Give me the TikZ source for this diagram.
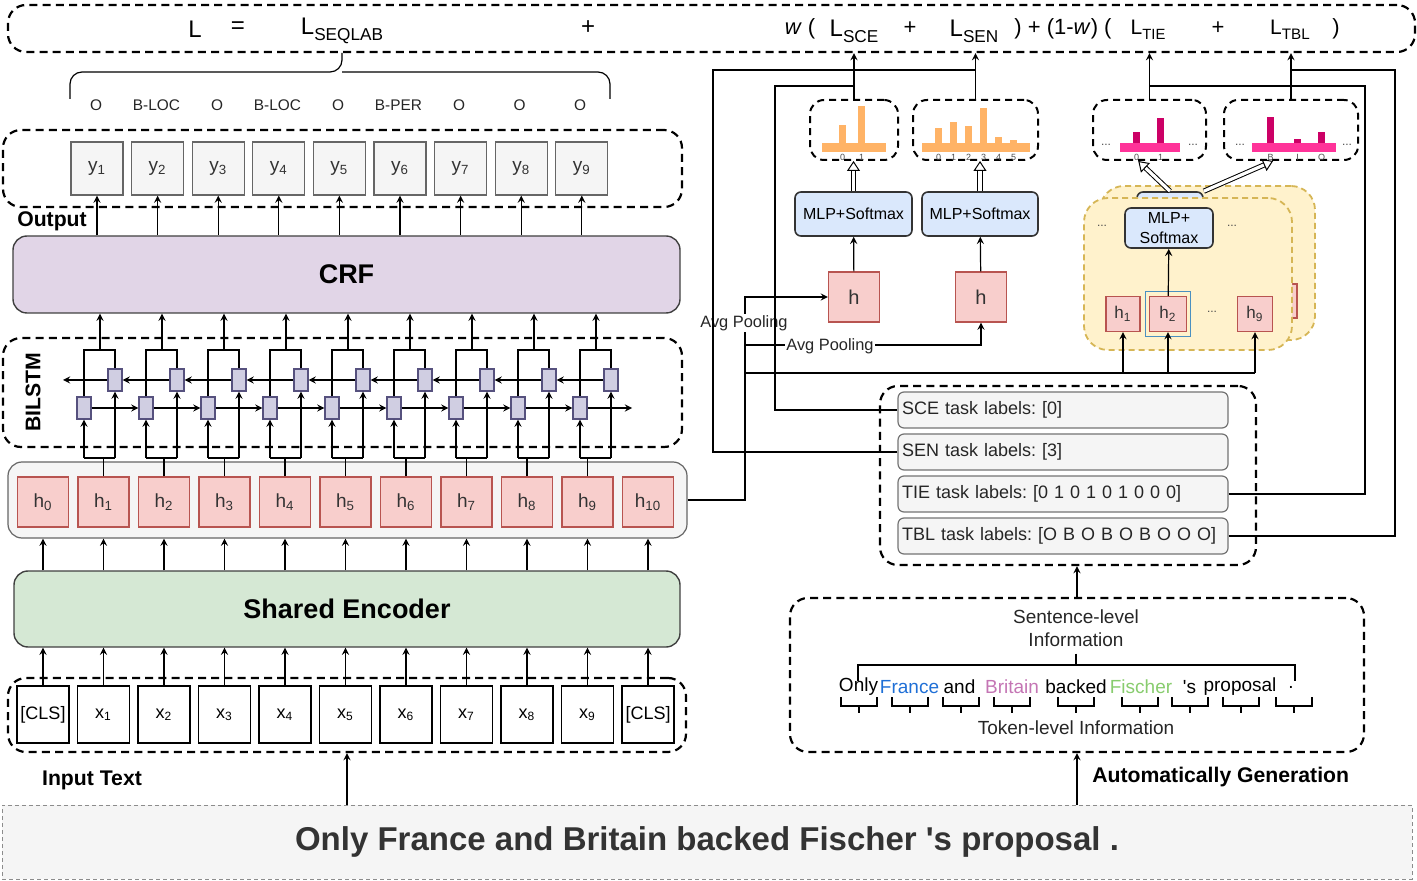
\documentclass[tikz,border=0pt]{standalone}
\usepackage{fontspec}
\setmainfont{Liberation Sans}
\usetikzlibrary{arrows.meta,positioning}
\frenchspacing

\definecolor{hfill}{HTML}{F8CECC}
\definecolor{hdraw}{HTML}{B85450}
\definecolor{crffill}{HTML}{E1D5E7}
\definecolor{encfill}{HTML}{D5E8D4}
\definecolor{mlpfill}{HTML}{DAE8FC}
\definecolor{cellfill}{HTML}{D0CEE2}
\definecolor{celldraw}{HTML}{56517E}
\definecolor{boxfill}{HTML}{F5F5F5}
\definecolor{tokfill}{HTML}{FFF2CC}
\definecolor{tokdraw}{HTML}{D6B656}
\definecolor{selblue}{HTML}{4A90C0}
\definecolor{barorange}{HTML}{FFB366}
\definecolor{barpink}{HTML}{FF3399}
\definecolor{bardark}{HTML}{CC0066}
\definecolor{wblue}{HTML}{1F6FD6}
\definecolor{wpink}{HTML}{C475B4}
\definecolor{wgreen}{HTML}{88CC6E}

\newcommand{\lterm}[3]{\fontsize{#2}{#2}\selectfont L\raisebox{-0.45ex}{\fontsize{#3}{#3}\selectfont #1}}

\tikzset{
  dbox/.style={draw, line width=1.1pt, dash pattern=on 4pt off 2.6pt, rounded corners=9pt},
  chart/.style={draw, line width=1pt, dash pattern=on 3.5pt off 2.5pt, rounded corners=7pt, minimum height=30pt},
  ybox/.style={draw=black!60, fill=boxfill, minimum width=26pt, minimum height=26.5pt, font=\fontsize{9.5}{10}\selectfont, text=black!80},
  hbox/.style={draw=hdraw, fill=hfill, minimum width=25.5pt, minimum height=25pt, font=\fontsize{9.5}{10}\selectfont, text=black!80},
  xbox/.style={draw, fill=white, minimum width=26pt, minimum height=28.5pt, font=\fontsize{9}{10}\selectfont, inner sep=0pt},
  cell/.style={draw=celldraw, fill=cellfill, minimum width=7pt, minimum height=11pt, inner sep=0pt},
  bigbox/.style={draw=black!75, rounded corners=7pt, line width=0.7pt, font=\fontsize{13.5}{15}\selectfont\bfseries},
  mlp/.style={draw=black!80, fill=mlpfill, rounded corners=3pt, line width=0.8pt, font=\fontsize{8}{9}\selectfont, inner sep=1pt},
  task/.style={draw=black!55, fill=boxfill, rounded corners=3pt, text width=161pt, inner xsep=2pt, minimum height=18pt, align=left, font=\fontsize{9}{10}\selectfont, text=black!85},
  tok/.style={draw=tokdraw, fill=tokfill, dash pattern=on 3pt off 2pt, rounded corners=12pt, line width=0.9pt},
  hollow/.style={double, double distance=1.6pt, line width=0.5pt, -{Triangle[open, length=5pt, width=6.5pt]}},
  lbl/.style={font=\fontsize{10.6}{12}\selectfont\bfseries},
  smalltxt/.style={font=\fontsize{8.2}{9}\selectfont, text=black!85},
  ticklab/.style={font=\fontsize{4.5}{5}\selectfont, text=black!70, inner sep=0pt},
  dots/.style={font=\fontsize{6}{6}\selectfont, text=black!70},
}

\begin{document}
\begin{tikzpicture}[x=0.5pt, y=-0.5pt, >=stealth, line width=0.6pt]
\useasboundingbox (0,0) rectangle (1417,881);

% loss
\node[dbox, minimum width=703.5pt, minimum height=23.5pt] (loss) at (711.5,28.5) {};
\node[font=\fontsize{12}{12}\selectfont] (Lall) at (195,29) {L};
\node[font=\fontsize{12}{12}\selectfont] (eq) at (238,28) {=};
\node (Lseq) at (342,31) {\lterm{SEQLAB}{12}{8.6}};
\node[font=\fontsize{12}{12}\selectfont] (plus1) at (588,28) {+};
\node[font=\fontsize{11}{11}\selectfont] (wl) at (800,29) {\textit{w} (};
\node (Lsce) at (854,31) {\lterm{SCE}{12}{8.6}};
\node[font=\fontsize{11}{11}\selectfont] (plus2) at (910,28) {+};
\node (Lsen) at (974,31) {\lterm{SEN}{12}{8.6}};
\node[font=\fontsize{11}{11}\selectfont] (wr) at (1063,29) {) + (1-\textit{w}) (};
\node (Ltie) at (1148,30) {\lterm{TIE}{10.5}{7.4}};
\node[font=\fontsize{11}{11}\selectfont] (plus3) at (1218,28) {+};
\node (Ltbl) at (1290,30) {\lterm{TBL}{10.5}{7.6}};
\node[font=\fontsize{11}{11}\selectfont] (rp) at (1336,29) {)};

% brace + tags
\draw[rounded corners=6pt] (70,99) |- (342,72) -- (342,53);
\draw[rounded corners=6pt] (610,99) |- (342,72);
\foreach \lab [count=\i from 0] in {O,B-LOC,O,B-LOC,O,B-PER,O,O,O}
  \node[font=\fontsize{7.7}{8}\selectfont, text=black!85] (tag\i) at (96+60.5*\i,105) {\lab};

% output
\node[dbox, minimum width=339.5pt, minimum height=38.5pt] (outbox) at (342.5,168.5) {};
\foreach \i in {1,...,9}
  \node[ybox] (y\i) at (36.4+60.6*\i,168.5) {y\textsubscript{\i}};
\node[lbl] (outlab) at (52,221) {Output};
\node[bigbox, fill=crffill, minimum width=333.5pt, minimum height=38.5pt] (crf) at (346.5,274.5) {CRF};
\foreach \i in {1,...,9}
  \draw[->] (y\i.south |- crf.north) -- (y\i.south);

% bilstm
\node[dbox, minimum width=339.5pt, minimum height=54.5pt] (lstmbox) at (342.5,392.5) {};
\node[lbl, rotate=90] (lstmlab) at (33,392) {BILSTM};
\foreach \i in {1,...,9} {
  \pgfmathsetmacro{\c}{100+62*(\i-1)}
  \node[cell] (f\i) at (\c-16,408) {};
  \node[cell] (b\i) at (\c+15,380) {};
  \draw (f\i.north) -- (\c-16,350) -- (\c+15,350) -- (b\i.north);
  \draw[->] (\c,350) -- (crf.south -| \c,350);
  \draw (\c-16,458) -- (\c+15,458);
  \draw[->] (\c-16,458) -- (f\i.south);
  \draw[->] (\c+15,458) -- (b\i.south);
}
\foreach \i [evaluate=\i as \j using int(\i+1)] in {1,...,8} {
  \draw[->] (f\i) -- (f\j);
  \draw[->] (b\j) -- (b\i);
}
\coordinate (fwdend) at (632,408);
\coordinate (bwdend) at (63,380);
\draw[->] (f9) -- (fwdend);
\draw[->] (b1) -- (bwdend);

% encoder outputs
\node[draw=black!60, fill=boxfill, rounded corners=7pt, minimum width=339.5pt, minimum height=38pt] (hrow) at (347.5,500) {};
\foreach \i in {0,...,10}
  \node[hbox] (h\i) at (43+60.5*\i,502) {h\textsubscript{\i}};
\foreach \i in {1,...,9}
  \draw (h\i.north) -- (h\i.north |- 0,458);
\node[bigbox, fill=encfill, minimum width=333pt, minimum height=38pt] (enc) at (347,609) {Shared Encoder};
\foreach \i in {0,...,10}
  \draw[->] (h\i.south |- enc.north) -- (hrow.south -| h\i.south);

% input
\node[dbox, minimum width=339pt, minimum height=37pt] (inbox) at (347,715) {};
\node[xbox] (x0) at (43,714.5) {[CLS]};
\foreach \i in {1,...,9}
  \node[xbox] (x\i) at (43+60.5*\i,714.5) {x\textsubscript{\i}};
\node[xbox] (x10) at (648,714.5) {[CLS]};
\foreach \i in {0,...,10}
  \draw[->] (x\i.north) -- (x\i.north |- enc.south);
\node[lbl] (inlab) at (92,780) {Input Text};

% sentence
\node[draw=black!45, fill=boxfill, dash pattern=on 2pt off 1.5pt, line width=0.5pt, minimum width=705pt, minimum height=37pt, font=\fontsize{16.5}{18}\selectfont\bfseries, text=black!80] (sent) at (707,842) {Only France and Britain backed Fischer \textquotesingle s proposal .};
\draw[->] (inbox.south |- sent.north) -- (inbox.south);

% info
\node[dbox, minimum width=287pt, minimum height=77pt] (info) at (1077,675) {};
\draw[->] (info.south |- sent.north) -- (info.south);
\node[lbl, anchor=west] (autolab) at (1085,777) {Automatically Generation};
\node[smalltxt, font=\fontsize{9.5}{11.5}\selectfont, align=center] (sentinfo) at (1076,628) {Sentence-level\\Information};
\draw (sentinfo.south) -- (sentinfo.south |- 0,665);
\draw (858,681) |- (1295,665) -- (1295,681);
\foreach \w/\x/\col in {Only/858.5/black, France/909.5/wblue, and/959.5/black, Britain/1012/wpink, backed/1076/black, Fischer/1141/wgreen, \textquotesingle s/1189.5/black, proposal/1240/black, ./1291/black}
  \node[font=\fontsize{9.5}{10}\selectfont, text=\col] at (\x,687) {\w};
\foreach \x in {858.5,910,961,1012,1076,1140,1190,1241,1294} {
  \draw[line width=1pt] (\x-18,697) -- (\x-18,706) -- (\x+18,706) -- (\x+18,697);
  \draw[line width=1pt] (\x,706) -- (\x,713);
}
\node[font=\fontsize{9.5}{10}\selectfont, text=black!85] (toklab) at (1076,728) {Token-level Information};

% task labels
\node[dbox, minimum width=188pt, minimum height=89.5pt] (taskbox) at (1068,475.5) {};
\draw[->] (info.north) -- (info.north |- taskbox.south);
\node[task] (sce) at (1063,410) {SCE task labels: [0]};
\node[task] (sen) at (1063,452) {SEN task labels: [3]};
\node[task] (tie) at (1063,494) {TIE task labels: [0 1 0 1 0 1 0 0 0]};
\node[task] (tbl) at (1063,536) {TBL task labels: [O B O B O B O O O]};

% heads
\node[chart, minimum width=44pt] (scechart) at (854,130) {};
\node[chart, minimum width=62.5pt] (senchart) at (975.5,130) {};
\node[chart, minimum width=56.5pt] (tiechart) at (1149.5,130) {};
\node[chart, minimum width=67pt] (tblchart) at (1291,130) {};
\fill[barorange] (822,143) rectangle (886,152);
\fill[barorange] (839,125) rectangle (846,143);
\fill[barorange] (858,106) rectangle (865,143);
\foreach \x/\t in {842.5/0, 861.5/1}
  \node[ticklab] at (\x,157) {\t};
\fill[barorange] (922,143) rectangle (1030,152);
\foreach \x/\t/\k in {935/128/0, 950/122/1, 965/126/2, 980/108/3, 995/137/4, 1010/140/5} {
  \fill[barorange] (\x,\t) rectangle (\x+7,143);
  \node[ticklab] at (\x+3.5,157) {\k};
}
\fill[barpink] (1120,143) rectangle (1180,152);
\fill[bardark] (1133,132) rectangle (1140,143);
\fill[bardark] (1157,118) rectangle (1164,143);
\foreach \x/\t in {1136.5/0, 1160.5/1}
  \node[ticklab] at (\x,157) {\t};
\node[dots] at (1106,145) {...};
\node[dots] at (1193,145) {...};
\fill[barpink] (1252,143) rectangle (1336,152);
\fill[bardark] (1267,117) rectangle (1274,143);
\fill[bardark] (1294,139) rectangle (1301,143);
\fill[bardark] (1318,132) rectangle (1325,143);
\foreach \x/\t in {1270.5/B, 1297.5/I, 1321.5/O}
  \node[ticklab] at (\x,157) {\t};
\node[dots] at (1240,145) {...};
\node[dots] at (1347,145) {...};

\node[mlp, minimum width=58.5pt, minimum height=22pt] (scemlp) at (853.5,214) {MLP+Softmax};
\node[mlp, minimum width=58pt, minimum height=22pt] (senmlp) at (980,214) {MLP+Softmax};
\node[hbox, font=\fontsize{10}{10}\selectfont] (sceh) at (854,297) {h};
\node[hbox, font=\fontsize{10}{10}\selectfont] (senh) at (981,297) {h};
\draw[->] (sceh) -- (scemlp);
\draw[->] (senh) -- (senmlp);
\draw[hollow] (scemlp.north) -- (scemlp.north |- scechart.south);
\draw[hollow] (senmlp.north) -- (senmlp.north |- senchart.south);

% token panel
\node[tok, minimum width=107.5pt, minimum height=77pt] (tokback) at (1207.5,263) {};
\node[mlp, minimum width=33pt, minimum height=19pt] (tmlpback) at (1170,211) {};
\node[draw=hdraw, fill=hfill, minimum width=17pt, minimum height=17pt] (thback) at (1280,301) {};
\node[tok, minimum width=104pt, minimum height=76pt] (tokfront) at (1188,274) {};
\node[mlp, align=center, minimum width=44pt, minimum height=20pt, font=\fontsize{8}{10}\selectfont] (tmlp) at (1169,228) {MLP+\\Softmax};
\node[draw=selblue, line width=0.9pt, minimum width=22.5pt, minimum height=22.5pt] (th2sel) at (1168,314) {};
\node[hbox, minimum width=17pt, minimum height=17.5pt, font=\fontsize{8.5}{9}\selectfont] (th1) at (1123,314) {h\textsubscript{1}};
\node[hbox, minimum width=18.5pt, minimum height=17.5pt, font=\fontsize{8.5}{9}\selectfont] (th2) at (1168,314) {h\textsubscript{2}};
\node[hbox, minimum width=17.5pt, minimum height=17.5pt, font=\fontsize{8.5}{9}\selectfont] (tg) at (1255,314) {h\textsubscript{9}};
\node[dots] at (1212,312) {...};
\node[dots] at (1102,226) {...};
\node[dots] at (1232,226) {...};
\draw[->] (th2) -- (tmlp);
\draw[hollow] (tmlpback.north) -- (tiechart.-110);
\draw[hollow] (tmlpback.north east) -- (tblchart.-120);

% routing
\draw[->] (hrow.east) -| (745,297) -- (sceh.west);
\draw[->] (745,345) -| (senh.south);
\draw (745,373) -- (tg.south |- 0,373);
\foreach \t in {th1,th2,tg}
  \draw[->] (\t.south |- 0,373) -- (\t.south);
\node[smalltxt, fill=white, inner sep=0.5pt] (avg1) at (744,323) {Avg Pooling};
\node[smalltxt, fill=white, inner sep=0.5pt] (avg2) at (830,346) {Avg Pooling};

\draw (sce.west) -| (775,86) -| (scechart.north);
\draw (sen.west) -| (713,70) -| (senchart.north);
\draw (tie.east) -| (1365,86) -| (tiechart.north);
\draw (tbl.east) -| (1395,70) -| (tblchart.north);
\foreach \n in {scechart,senchart,tiechart,tblchart}
  \draw[->] (\n.north) -- (\n.north |- loss.south);
\end{tikzpicture}
\end{document}
